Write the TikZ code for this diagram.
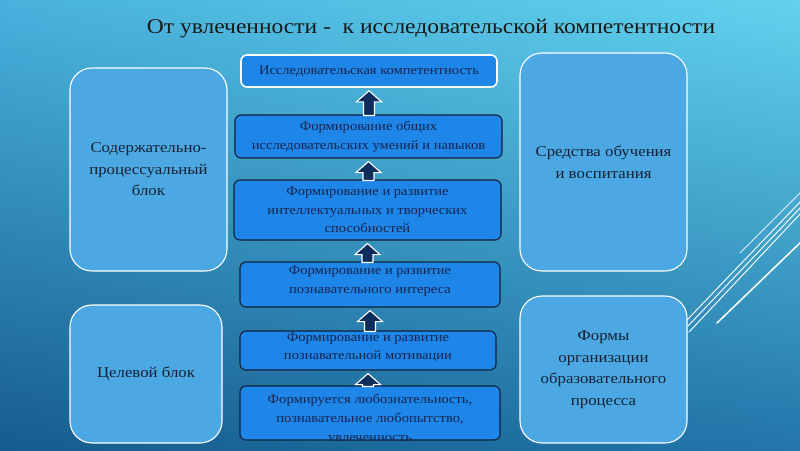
\documentclass[tikz,border=0pt]{standalone}
\usepackage{fontspec}
\setmainfont[FakeStretch=1.12]{Liberation Serif}
\usetikzlibrary{calc,shadings}
\definecolor{bgUL}{RGB}{72,178,220}
\definecolor{bgUR}{RGB}{98,210,238}
\definecolor{bgLL}{RGB}{22,92,142}
\definecolor{bgLR}{RGB}{34,118,168}
\definecolor{sidefill}{RGB}{75,168,226}
\definecolor{stepfill}{RGB}{30,134,232}
\definecolor{stepline}{RGB}{18,32,58}
\definecolor{steptxt}{RGB}{22,36,78}
\definecolor{sidetxt}{RGB}{22,32,52}
\definecolor{arrfill}{RGB}{14,44,92}
\newcommand\blockup[2]{%
  \draw[blockarr]
    ($(#1.south |- #2.north)+(-5.5,1)$) --
    ($(#1.south)+(-5.5,14)$) -- ($(#1.south)+(-12.5,14)$) --
    ($(#1.south)+(0,3)$) --
    ($(#1.south)+(12.5,14)$) -- ($(#1.south)+(5.5,14)$) --
    ($(#1.south |- #2.north)+(5.5,1)$) -- cycle;}
\begin{document}
\begin{tikzpicture}[x=1pt,y=-1pt,
  sidebox/.style={draw=white, line width=1.1pt, fill=sidefill, rounded corners=22pt,
    inner sep=0pt, align=center, text=sidetxt, font=\fontsize{15}{21.5}\selectfont},
  stepbox/.style={draw=stepline, line width=1.1pt, fill=stepfill, rounded corners=6pt,
    inner sep=0pt, align=center, text=steptxt, font=\fontsize{13}{18.8}\selectfont},
  topbox/.style={stepbox, draw=white, line width=1.6pt},
  steptext/.style={inner sep=0pt, align=center, text=steptxt, font=\fontsize{13}{18.8}\selectfont},
  titletext/.style={inner sep=0pt, text=black!90, font=\fontsize{21}{24}\selectfont},
  blockarr/.style={draw=white, line width=1.1pt, fill=arrfill, line join=miter},
  decor/.style={draw=white, line cap=round}
]
\useasboundingbox (0,0) rectangle (800,450);
\shade[upper left=bgUL, upper right=bgUR, lower left=bgLL, lower right=bgLR] (0,0) rectangle (800,450);

% decorative lines
\draw[decor, line width=0.8pt, opacity=0.85] (740,253) -- (802,191);
\draw[decor, line width=0.9pt] (687,320) -- (802,200);
\draw[decor, line width=0.9pt] (688,326) -- (802,206);
\draw[decor, line width=0.9pt] (689,332) -- (802,212);
\draw[decor, line width=1.5pt] (717,323) -- (802,241);

% title
\node[titletext] (title) at (431,29) {От увлеченности -\ \ к исследовательской компетентности};

% side blocks
\node[sidebox, minimum width=157pt, minimum height=203pt] (l1) at (148.5,169.5)
  {Содержательно-\\процессуальный\\блок};
\node[sidebox, minimum width=152pt, minimum height=138pt] (l2) at (146,374)
  {Целевой блок};
\node[sidebox, minimum width=167pt, minimum height=218pt] (r1) at (603.5,162)
  {Средства обучения\\и воспитания};
\node[sidebox, minimum width=167pt, minimum height=147pt] (r2) at (603.5,369.5)
  {Формы\\организации\\образовательного\\процесса};

% central steps
\node[topbox, minimum width=256pt, minimum height=32pt] (c1) at (369,71)
  {Исследовательская компетентность};
\node[stepbox, minimum width=267pt, minimum height=43pt] (c2) at (368.5,136.5)
  {Формирование общих\\исследовательских умений и навыков};
\node[stepbox, minimum width=267pt, minimum height=60pt] (c3) at (367.5,210)
  {Формирование и развитие\\интеллектуальных и творческих\\способностей};
\node[stepbox, minimum width=260pt, minimum height=45pt] (c4) at (370,284.5) {};
\node[steptext] (c4t) at (370,281.5)
  {Формирование и развитие\\познавательного интереса};
\node[stepbox, minimum width=256pt, minimum height=39pt] (c5) at (368,350.5) {};
\node[steptext] (c5t) at (368,347.5)
  {Формирование и развитие\\познавательной мотивации};
\node[stepbox, minimum width=260pt, minimum height=54pt] (c6) at (370,413) {};
\begin{scope}
\clip[rounded corners=6pt] (240,386) rectangle (500,440);
\node[steptext] (c6t) at (370,419)
  {Формируется любознательность,\\познавательное любопытство,\\увлеченность};
\end{scope}

% arrows
\blockup{c1}{c2}
\blockup{c2}{c3}
\blockup{c3}{c4}
\blockup{c4}{c5}
\blockup{c5}{c6}
\end{tikzpicture}
\end{document}
